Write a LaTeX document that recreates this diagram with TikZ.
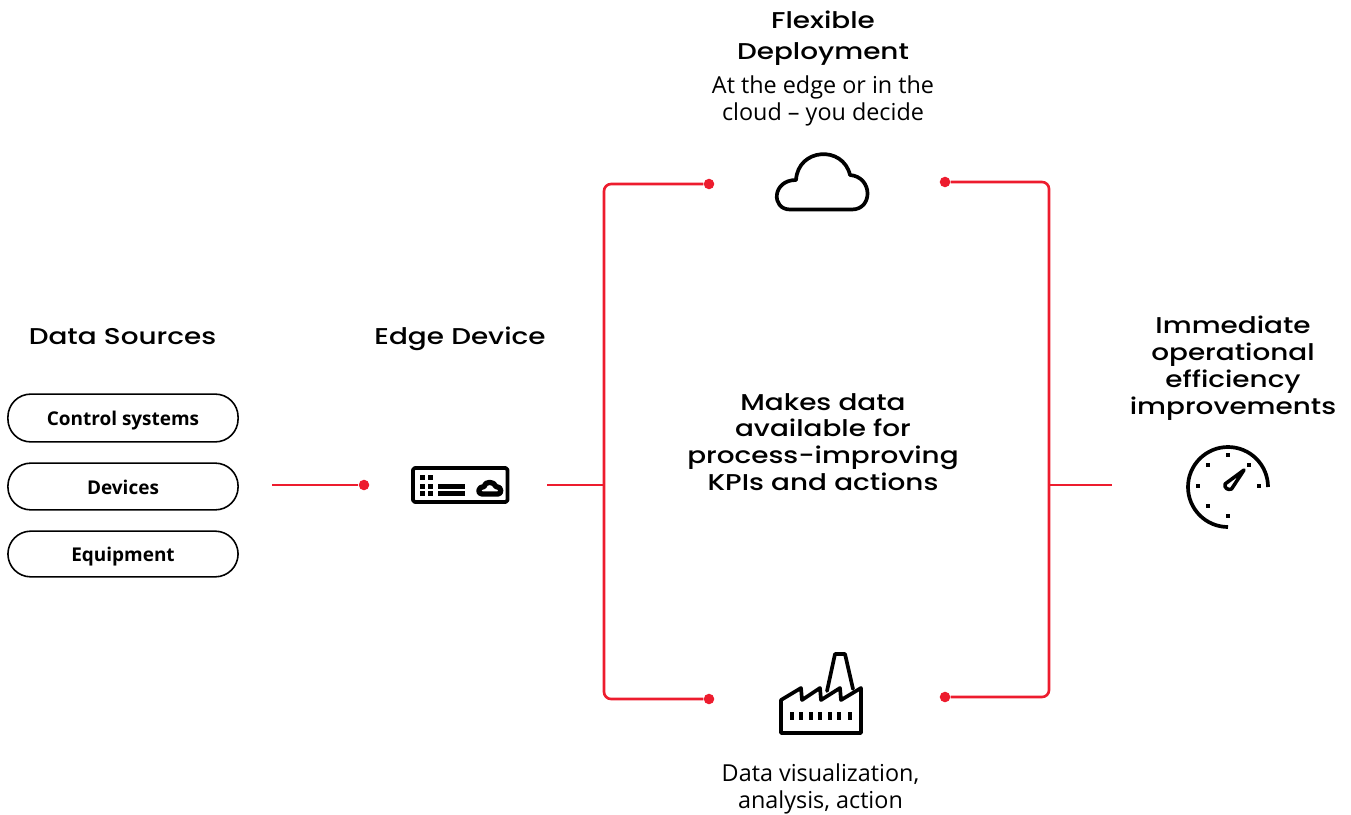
\documentclass[tikz,border=0pt]{standalone}
\usepackage{fontspec}
\setmainfont{Open Sans}
\newfontfamily\headfont[FakeStretch=1.22]{Poppins Medium}
\definecolor{linered}{RGB}{237,28,46}
\tikzset{
  headtext/.style={font=\headfont\fontsize{13}{15.3}\selectfont,align=center,inner sep=0pt},
  bodytext/.style={font=\fontsize{13.3}{15.3}\selectfont,align=center,inner sep=0pt},
  pilltext/.style={draw,line width=0.9pt,rounded corners=13pt,minimum width=131pt,text height=11.4pt,text depth=2.4pt,font=\fontsize{10.8}{12}\selectfont\bfseries,inner sep=0pt},
  redline/.style={linered,line width=1.5pt,rounded corners=4pt},
  reddot/.style={circle,fill=linered,inner sep=0pt,minimum size=6pt},
  iconline/.style={line width=2.1pt,line join=round,line cap=round}
}
\begin{document}
\begin{tikzpicture}[x=0.02cm,y=-0.02cm]
        \useasboundingbox (0,0) rectangle (1351,814);

        % Headings
        \node [headtext] (sources) at (122.5,337) {Data Sources};
        \node [headtext] (edge) at (460,339) {Edge Device};
        \node [headtext] (flexible) at (823,38) {Flexible\\[2.6pt]Deployment};
        \node [headtext] (makes) at (823,442) {Makes data\\available for\\process-improving\\KPIs and actions};
        \node [headtext] (immediate) at (1233,368) {Immediate\\operational\\efficiency\\improvements};

        % Body texts
        \node [bodytext] (decide) at (823,101) {At the edge or in the\\cloud -- you decide};
        \node [bodytext] (visual) at (820.5,789) {Data visualization,\\analysis, action};

        % Data source boxes
        \node [pilltext,minimum height=27.2pt] (control) at (123,418) {Control systems};
        \node [pilltext,minimum height=26.6pt] (devices) at (123,486.5) {Devices};
        \node [pilltext,minimum height=26pt] (equipment) at (123,554) {Equipment};

        % Red dots and free ends
        \node [reddot] (dotedge) at (364,485) {};
        \node [reddot] (dotcloudl) at (709,184) {};
        \node [reddot] (dotcloudr) at (945,182) {};
        \node [reddot] (dotfactl) at (709,699) {};
        \node [reddot] (dotfactr) at (945,697) {};
        \coordinate (srcend) at (272,485);
        \coordinate (devend) at (547,485);
        \coordinate (leftjoin) at (604,485);
        \coordinate (rightjoin) at (1049,485);
        \coordinate (gaugeend) at (1112,485);

        % Connectors
        \draw [redline] (srcend) -- (dotedge);
        \draw [redline] (devend) -- (leftjoin);
        \draw [redline] (dotcloudl) -| (leftjoin) |- (dotfactl);
        \draw [redline] (dotcloudr) -| (rightjoin) |- (dotfactr);
        \draw [redline] (rightjoin) -- (gaugeend);

        % Edge device icon
        \draw [iconline,rounded corners=1pt] (413,468) rectangle (507.5,502);
        \foreach \x/\y in {420/475,428/475,420/484,428/484,420/491,428/491}
            \fill (\x,\y) rectangle ++(4.5,4.5);
        \fill (438,484) rectangle (465,488.5);
        \fill (438,491) rectangle (465,495.5);
        \draw [iconline,line width=3pt] (482,494) .. controls (477,494) and (478,486.5) .. (484,486.5)
            .. controls (485,481) and (494,481) .. (496,486.5)
            .. controls (502,486.5) and (502,494) .. (498,494) -- cycle;

        % Cloud icon
        \draw [iconline] (790,209.5) .. controls (771,209.5) and (772,180) .. (796,180)
            .. controls (798,148) and (843,145) .. (850,175)
            .. controls (873,177) and (873,209.5) .. (852,209.5) -- cycle;

        % Factory icon
        \draw [iconline] (781,733) -- (781,700) -- (801,688) -- (802,700) -- (820,688) -- (821,700)
            -- (840,688) -- (841,700) -- (861,688) -- (861,733) -- cycle;
        \draw [iconline] (827,691) -- (835,654) -- (845,654) -- (853,689);
        \foreach \x in {790,799,809,818,828,837,848}
            \fill (\x,712) rectangle ++(4.2,8);

        % Gauge icon
        \draw [iconline,line cap=butt] (1268,487) arc (0:-270:40);
        \foreach \x/\y in {1228/455,1208/465,1249/465,1198/486,1259/486,1208/506,1228/516}
            \fill (\x-2,\y-2) rectangle ++(4.4,4.4);
        \draw [line width=2pt,line join=round] (1244,470) -- (1231.5,489)
            .. controls (1228,490.5) and (1224,488) .. (1225,484) -- cycle;
        \end{tikzpicture}
\end{document}
